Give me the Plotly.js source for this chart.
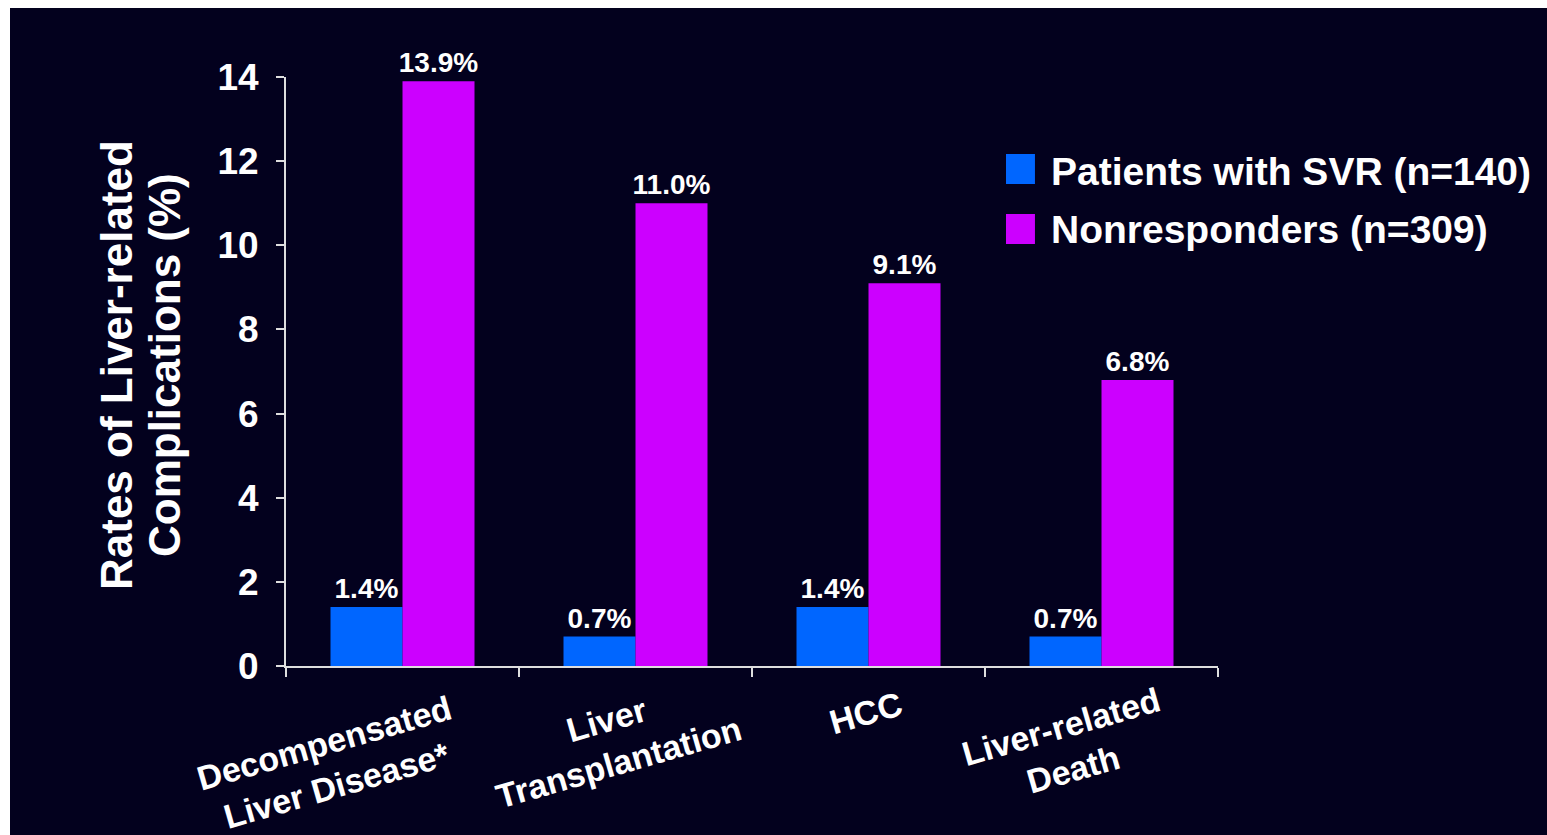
<!DOCTYPE html>
<html>
<head>
<meta charset="utf-8">
<script src="https://cdn.plot.ly/plotly-3.0.1.min.js"></script>
<style>
  html, body { margin: 0; padding: 0; background: #ffffff; width: 1547px; height: 835px; overflow: hidden; }
  #chart { position: absolute; left: 10px; top: 8px; width: 1537px; height: 827px; }
</style>
</head>
<body>
<div id="chart"></div>
<script>
// Liver-related complications by virological response
const categories = ['Decompensated<br>Liver Disease*', 'Liver<br>Transplantation', 'HCC', 'Liver-related<br>Death'];
const seriesNames = ['Patients with SVR (n=140)', 'Nonresponders (n=309)'];
const svrRates = [1.4, 0.7, 1.4, 0.7];
const nonresponderRates = [13.9, 11.0, 9.1, 6.8];
const yTickValues = [0, 2, 4, 6, 8, 10, 12, 14];
const yTitleLines = ['Rates of Liver-related', 'Complications (%)'];

const BG = '#03011e';
const AXIS = '#dedede';
const BLUE = '#0066ff';
const MAGENTA = '#cc00ff';
const FONT = 'Liberation Sans, Arial, sans-serif';

// per-label placement of the rotated category captions (pixel offsets)
const labelOffsets = [[-72, -98], [-23, -75], [-3, -47], [-35, -82]];

function barTrace(name, values, color) {
  return {
    type: 'bar',
    name: name,
    x: categories,
    y: values,
    marker: { color: color, line: { width: 0 } },
    text: values.map(v => v.toFixed(1) + '%'),
    textposition: 'outside',
    constraintext: 'none',
    textfont: { family: FONT, size: 28, color: '#ffffff', weight: 'bold' },
    cliponaxis: false,
    showlegend: false,
    hoverinfo: 'skip'
  };
}

const traces = [
  barTrace(seriesNames[0], svrRates, BLUE),
  barTrace(seriesNames[1], nonresponderRates, MAGENTA)
];

const annotations = [];
categories.forEach((c, i) => {
  annotations.push({
    x: i, xref: 'x', y: 0, yref: 'paper',
    xanchor: 'center', yanchor: 'middle',
    xshift: labelOffsets[i][0], yshift: labelOffsets[i][1],
    text: c, textangle: -16, align: 'center', showarrow: false,
    font: { family: FONT, size: 34, color: '#ffffff', weight: 'bold' }
  });
});

// two-line vertical axis caption
const titleShifts = [-170, -122];
yTitleLines.forEach((t, i) => {
  annotations.push({
    x: 0, xref: 'paper', y: 0.511, yref: 'paper',
    xanchor: 'center', yanchor: 'middle', xshift: titleShifts[i],
    text: t, textangle: -90, showarrow: false,
    font: { family: FONT, size: 44, color: '#ffffff', weight: 'bold' }
  });
});

// legend drawn as swatches plus labels
const legendColors = [BLUE, MAGENTA];
const legendRows = [
  { y0: 0.8183, y1: 0.8693, ty: 0.8404 },
  { y0: 0.7165, y1: 0.7674, ty: 0.7419 }
];
const shapes = [];
seriesNames.forEach((n, i) => {
  shapes.push({
    type: 'rect', xref: 'paper', yref: 'paper',
    x0: 0.7725, x1: 0.8036, y0: legendRows[i].y0, y1: legendRows[i].y1,
    fillcolor: legendColors[i], line: { width: 0 }
  });
  annotations.push({
    x: 0.8187, xref: 'paper', y: legendRows[i].ty, yref: 'paper',
    xanchor: 'left', yanchor: 'middle', text: n, showarrow: false,
    font: { family: FONT, size: 39, color: '#ffffff', weight: 'bold' }
  });
});

const layout = {
  width: 1537, height: 827,
  margin: { l: 276, r: 329, t: 69, b: 169, pad: 0 },
  paper_bgcolor: BG, plot_bgcolor: BG,
  barmode: 'group', bargap: 0.382, bargroupgap: 0,
  showlegend: false,
  xaxis: {
    type: 'category', categoryorder: 'array', categoryarray: categories,
    range: [-0.5, categories.length - 0.5],
    showline: true, linecolor: AXIS, linewidth: 2,
    ticks: 'outside', tickson: 'boundaries', ticklen: 9, tickwidth: 2, tickcolor: AXIS,
    showticklabels: false, showgrid: false, zeroline: false, fixedrange: true
  },
  yaxis: {
    range: [0, 14], tickvals: yTickValues, ticktext: yTickValues.map(String),
    showline: true, linecolor: AXIS, linewidth: 2,
    ticks: 'outside', ticklen: 8, tickwidth: 2, tickcolor: AXIS,
    ticklabelstandoff: 10,
    tickfont: { family: FONT, size: 37, color: '#ffffff', weight: 'bold' },
    showgrid: false, zeroline: false, fixedrange: true
  },
  shapes: shapes,
  annotations: annotations
};

Plotly.newPlot('chart', traces, layout, { displayModeBar: false, staticPlot: true });
</script>
</body>
</html>
